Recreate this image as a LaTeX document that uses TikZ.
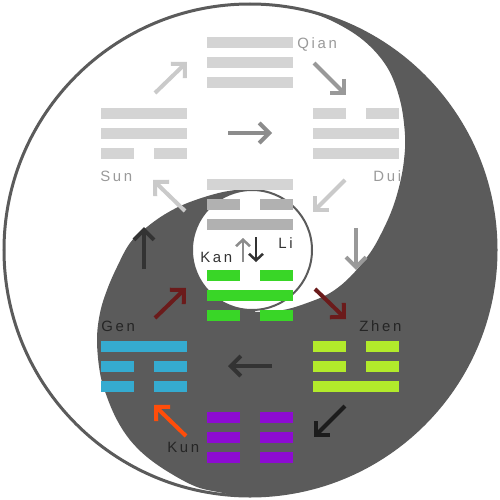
\documentclass[tikz,border=0pt]{standalone}
\usepackage{fontspec}
\setmainfont{Liberation Sans}
\newfontfamily\tagfont{Liberation Sans}[LetterSpace=18]
\usetikzlibrary{arrows.meta}

\definecolor{yin}{HTML}{5B5B5B}
\definecolor{triLight}{HTML}{D4D4D4}
\definecolor{triMid}{HTML}{B1B1B1}
\definecolor{kanGreen}{HTML}{39D627}
\definecolor{genBlue}{HTML}{35ABD0}
\definecolor{zhenLime}{HTML}{B2EA2B}
\definecolor{kunPurple}{HTML}{8D0BD1}
\definecolor{arLight}{HTML}{CACACA}
\definecolor{arGray}{HTML}{999999}
\definecolor{arMid}{HTML}{8C8C8C}
\definecolor{arDark}{HTML}{333333}
\definecolor{arRed}{HTML}{6B1B1B}
\definecolor{arBlack}{HTML}{1C1C1C}
\definecolor{arOrange}{HTML}{FF4D0A}
\definecolor{tagGray}{HTML}{9A9A9A}
\definecolor{tagDark}{HTML}{252525}

% three bars of a trigram, top to bottom, each as solid/colour
\newcommand{\trigram}[2]{%
  \begin{scope}[shift={#1}]
    \foreach \yao/\yaocol [count=\yaoi from 0] in {#2} {
      \ifnum\yao=1
        \fill[\yaocol] (0,20*\yaoi) rectangle (86,20*\yaoi+11);
      \else
        \fill[\yaocol] (0,20*\yaoi) rectangle (33,20*\yaoi+11);
        \fill[\yaocol] (53,20*\yaoi) rectangle (86,20*\yaoi+11);
      \fi
    }
  \end{scope}}

\begin{document}
\begin{tikzpicture}[x=0.2mm, y=-0.2mm]
\tikzstyle{flow} = [line width=0.8mm, -{Straight Barb[length=2mm, width=4mm]}]
\tikzstyle{small flow} = [line width=0.5mm, -{Straight Barb[length=1.3mm, width=2.8mm]}]
\tikzstyle{tag} = [anchor=base west, inner sep=0, font={\tagfont\fontsize{8.5}{10}\selectfont}]

\path[use as bounding box, fill=white] (0,0) rectangle (500,500);

% dark half
\begin{scope}
\clip (250,250) circle (246);
\fill[yin] (263,-20) -- (530,-20) -- (530,530) -- (240,530)
  -- plot[smooth, tension=0.6] coordinates {(240,497) (223,493) (197,487) (170,473)
     (147,457) (130,440) (117,420) (107,397) (100,373) (97,340) (100,313) (107,290)
     (117,267) (130,243) (147,227) (167,213) (190,202) (223,192) (255,188)}
  -- (255,312)
  -- plot[smooth, tension=0.6] coordinates {(255,312) (283,310) (307,303) (330,293)
     (350,277) (370,253) (383,230) (393,207) (400,183) (404,160) (405,135) (400,100)
     (387,67) (363,40) (330,20) (295,8) (263,3)}
  -- cycle;
\end{scope}
\node (eye) [circle, draw=yin, line width=0.4mm, fill=white, inner sep=0,
  minimum size=24mm] at (252,250) {};
\draw[yin, line width=0.6mm] (250,250) circle (246);

% trigrams
\trigram{(207,37)}{1/triLight,1/triLight,1/triLight}   % qian
\trigram{(101,108)}{1/triLight,1/triLight,0/triLight}  % sun
\trigram{(313,108)}{0/triLight,1/triLight,1/triLight}  % dui
\trigram{(207,179)}{1/triLight,0/triMid,1/triMid}      % li
\trigram{(207,270)}{0/kanGreen,1/kanGreen,0/kanGreen}  % kan
\trigram{(101,341)}{1/genBlue,0/genBlue,0/genBlue}     % gen
\trigram{(313,341)}{0/zhenLime,0/zhenLime,1/zhenLime}  % zhen
\trigram{(207,412)}{0/kunPurple,0/kunPurple,0/kunPurple} % kun

% arrow ends
\coordinate (sunQ) at (155,93);   \coordinate (qianS) at (187,62);
\coordinate (qianD) at (314,63);  \coordinate (duiQ) at (346,95);
\coordinate (midW) at (228,133);  \coordinate (midE) at (272,133);
\coordinate (duiL) at (345,180);  \coordinate (liD) at (313,212);
\coordinate (liS) at (185,211);   \coordinate (sunL) at (153,180);
\coordinate (genU) at (144,269);  \coordinate (sunU) at (144,227);
\coordinate (genK) at (155,318);  \coordinate (kanG) at (186,288);
\coordinate (liZ) at (315,289);   \coordinate (zhenL) at (346,319);
\coordinate (duiZ) at (356,228);  \coordinate (zhenD) at (356,270);
\coordinate (lowE) at (272,366);  \coordinate (lowW) at (228,366);
\coordinate (zhenK) at (345,406); \coordinate (kunZ) at (314,437);
\coordinate (kunG) at (186,436);  \coordinate (genN) at (154,405);
\coordinate (kanUp) at (243,262); \coordinate (liUp) at (243,238);
\coordinate (liDn) at (256,237);  \coordinate (kanDn) at (256,262);

\draw[flow, arLight] (sunQ) -- (qianS);
\draw[flow, arGray] (qianD) -- (duiQ);
\draw[flow, arMid] (midW) -- (midE);
\draw[flow, arLight] (duiL) -- (liD);
\draw[flow, arLight] (liS) -- (sunL);
\draw[flow, arDark] (genU) -- (sunU);
\draw[flow, arRed] (genK) -- (kanG);
\draw[flow, arRed] (liZ) -- (zhenL);
\draw[flow, arGray] (duiZ) -- (zhenD);
\draw[flow, arDark] (lowE) -- (lowW);
\draw[flow, arBlack] (zhenK) -- (kunZ);
\draw[flow, arOrange] (kunG) -- (genN);
\draw[small flow, arMid] (kanUp) -- (liUp);
\draw[small flow, arDark] (liDn) -- (kanDn);

% names
\node (qianlbl) [tag, tagGray] at (297,48) {Qian};
\node (sunlbl) [tag, tagGray] at (100,181) {Sun};
\node (duilbl) [tag, tagGray] at (373,181) {Dui};
\node (lilbl) [tag, arDark] at (278,248) {Li};
\node (kanlbl) [tag, arDark] at (200,262) {Kan};
\node (genlbl) [tag, tagDark] at (101,331) {Gen};
\node (zhenlbl) [tag, tagDark] at (359,331) {Zhen};
\node (kunlbl) [tag, tagDark] at (167,452) {Kun};
\end{tikzpicture}
\end{document}
